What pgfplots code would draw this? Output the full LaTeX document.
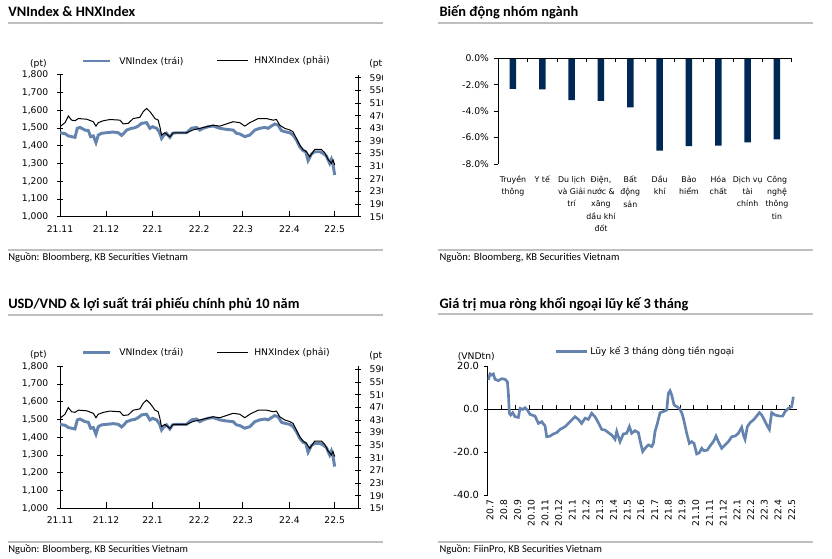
\documentclass[border=0pt]{standalone}
\usepackage{pgfplots}
\pgfplotsset{compat=1.18}
\usepackage{pgfplotstable}
\usepackage{fontspec}
\setmainfont{DejaVu Sans}
\newfontfamily\titlefont{Carlito}
\definecolor{vnblue}{RGB}{100,131,174}
\definecolor{navy}{RGB}{0,40,85}
\definecolor{rulegray}{RGB}{191,191,191}
\newcommand\cf{\fontsize{6.9}{8.3}\selectfont}
\newcommand\tf{\titlefont\bfseries\fontsize{10.8}{12}\selectfont}
\newcommand\srcf{\titlefont\fontsize{7.9}{9}\selectfont}
\pgfplotsset{every non boxed x axis/.append style={x axis line style=-},
             every non boxed y axis/.append style={y axis line style=-}}

\pgfplotstableread{
x y
180 1473
188 1470
195 1468
205 1455
215 1451
225 1447
232 1498
240 1503
248 1495
255 1488
265 1485
272 1451
280 1455
288 1417
295 1460
305 1470
320 1473
340 1477
355 1473
365 1458
372 1470
380 1488
395 1498
405 1501
415 1511
425 1526
440 1530
450 1498
458 1507
470 1498
478 1479
485 1441
490 1455
500 1470
510 1447
518 1470
530 1473
560 1473
575 1498
590 1503
600 1488
610 1498
625 1507
640 1511
660 1498
680 1492
700 1488
710 1470
720 1466
735 1451
750 1460
765 1488
780 1498
795 1503
805 1498
815 1511
825 1522
835 1516
845 1485
855 1479
870 1473
880 1460
890 1432
900 1394
910 1372
918 1366
925 1316
935 1353
945 1366
960 1366
970 1357
980 1342
990 1300
995 1323
1000 1291
1005 1235
}\vndata

\pgfplotstableread{
x y
182 437
195 448
205 469
215 456
225 454
235 461
260 459
280 451
288 437
295 448
310 454
330 458
360 456
370 444
385 446
400 461
420 465
430 483
440 493
450 483
458 472
465 461
475 456
480 435
485 409
495 416
510 403
520 416
560 416
580 425
600 430
620 435
640 440
660 437
680 444
700 451
720 448
735 437
750 448
775 461
800 461
820 456
830 458
840 440
855 430
870 425
880 419
890 398
900 377
910 363
920 356
930 340
945 363
965 363
975 353
985 332
995 319
1000 330
1005 314
}\hnxdata

\pgfplotstableread{
x y
205 13.5
210 16.3
215 15.8
220 16.3
225 13.8
235 13.2
245 14.1
255 13.8
262 12.7
265 7.3
268 -2.0
272 -2.8
278 -1.7
285 -3.6
295 -3.9
300 0.3
308 -0.2
315 0.6
322 -0.5
330 -2.5
345 -3.3
355 -6.7
365 -5.9
375 -7.9
380 -12.9
390 -12.6
400 -11.6
410 -11.0
420 -9.5
435 -8.2
450 -5.9
465 -3.6
475 -4.8
485 -6.7
495 -4.3
505 -4.8
515 -2.0
525 -3.6
535 -6.4
545 -9.5
555 -9.8
565 -11.0
575 -12.1
585 -14.1
590 -10.5
600 -15.2
610 -11.6
620 -11.3
628 -8.2
635 -11.3
645 -10.1
655 -11.0
662 -16.0
668 -19.8
675 -18.3
685 -16.7
695 -17.5
700 -16.0
705 -10.5
712 -6.7
720 -1.7
730 -1.2
740 -0.5
745 7.3
750 8.5
755 6.5
762 1.9
770 1.1
778 0.3
785 -1.7
790 -4.3
800 -11.3
808 -16.0
815 -15.2
822 -16.0
830 -20.9
838 -20.3
845 -18.3
852 -19.4
862 -19.1
870 -17.2
880 -15.2
888 -12.6
895 -15.2
905 -18.3
915 -16.7
925 -15.2
935 -12.9
945 -12.6
955 -11.3
965 -8.5
970 -12.1
975 -14.1
982 -8.2
990 -6.4
1000 -5.1
1010 -3.3
1018 -1.7
1025 -2.8
1032 -4.8
1040 -7.4
1048 -9.5
1055 -1.7
1065 -2.8
1078 -3.3
1088 -3.3
1095 -1.2
1105 0.3
1115 1.1
1120 5.7
}\ffdata

% coordinates: x in px from left, second argument = px from top
\newcommand{\vnpanel}[2]{%
  \node[anchor=base west, font=\tf, inner sep=0] at (8,{559-16.7-#1}) {#2};
  \draw[rulegray, line width=1.5pt] (8,{559-23-#1}) -- (383,{559-23-#1});
  \draw[rulegray, line width=1.5pt] (8,{559-250-#1}) -- (383,{559-250-#1});
  \node[anchor=base west, font=\srcf, inner sep=0] at (8,{559-260.7-#1}) {Nguồn: Bloomberg, KB Securities Vietnam};
  \draw[vnblue, line width=2.2pt] (83,{559-61-#1}) -- (110,{559-61-#1});
  \node[anchor=west, font=\cf, inner sep=0] at (119,{559-61-#1}) {VNIndex (trái)};
  \draw[black, line width=0.75pt] (217,{559-61-#1}) -- (248,{559-61-#1});
  \node[anchor=west, font=\cf, inner sep=0] at (254,{559-61-#1}) {HNXIndex (phải)};
  \node[anchor=east, font=\cf, inner sep=0] at (47,{559-63.5-#1}) {(pt)};
  \begin{scope}
  \clip (0,{559-#1}) rectangle (382,{559-280-#1});
  \node[anchor=west, font=\cf, inner sep=0] at (369,{559-64-#1}) {(pt)};
  \begin{axis}[
    at={({45pt},{(342.3-#1)*0.75pt})}, anchor=south west,
    scale only axis, width=223.5pt, height=106.5pt,
    xmin=180, xmax=1075, ymin=1000, ymax=1800,
    axis x line*=bottom, axis y line*=left,
    axis line style={black, line width=0.6pt},
    xtick={180,318,458,598,729,869,1005},
    xticklabels={21.11,21.12,22.1,22.2,22.3,22.4,22.5},
    ytick={1000,1100,...,1800},
    /pgf/number format/1000 sep={,},
    /pgf/number format/assume math mode=true,
    tick label style={font=\cf},
    xtick align=inside, ytick align=center,
    major tick length=4.5pt,
    tick style={black, line width=0.6pt},
    xticklabel style={yshift=-3pt},
    yticklabel style={xshift=-3pt},
  ]
  \addplot[vnblue, line width=2.2pt] table {\vndata};
  \end{axis}
  \begin{axis}[
    at={({45pt},{(342.3-#1)*0.75pt})}, anchor=south west,
    scale only axis, width=223.5pt, height=106.5pt,
    xmin=180, xmax=1075, ymin=150, ymax=600,
    axis x line=none, axis y line*=right,
    axis line style={black, line width=0.6pt},
    ytick={150,190,...,590},
    /pgf/number format/assume math mode=true,
    tick label style={font=\cf},
    ytick align=center, major tick length=4.5pt,
    tick style={black, line width=0.6pt},
    yticklabel style={xshift=3pt},
  ]
  \addplot[black, line width=0.75pt] table {\hnxdata};
  \end{axis}
  \end{scope}
}

\begin{document}
\begin{tikzpicture}[x=0.75pt, y=0.75pt]
\useasboundingbox (0,0) rectangle (832,559);
\fill[white] (0,0) rectangle (832,559);

\vnpanel{0}{VNIndex \& HNXIndex}
\vnpanel{291.6}{USD/VND \& lợi suất trái phiếu chính phủ 10 năm}

% ---------- top right: bar chart ----------
\node[anchor=base west, font=\tf, inner sep=0] at (439.3,{559-16.7}) {Biến động nhóm ngành};
\draw[rulegray, line width=1.5pt] (438,{559-23}) -- (813,{559-23});
\draw[rulegray, line width=1.5pt] (438,{559-250}) -- (813,{559-250});
\node[anchor=base west, font=\srcf, inner sep=0] at (439.3,{559-260.7}) {Nguồn: Bloomberg, KB Securities Vietnam};
\begin{axis}[
  at={(373.725pt,296.25pt)}, anchor=south west,
  scale only axis, width=220pt, height=79.3pt,
  xmin=-0.5, xmax=9.5, ymin=-8, ymax=0,
  axis x line*=bottom, axis y line*=left,
  x axis line style={draw=none},
  axis line style={black, line width=0.6pt},
  ybar, bar width=4.9pt,
  xtick={0,...,9},
  xticklabels={{Truyền\\thông},{Y tế},{Du lịch\\và Giải\\trí},{Điện,\\nước \&\\xăng\\dầu khí\\đốt},{Bất\\động\\sản},{Dầu\\khí},{Bảo\\hiểm},{Hóa\\chất},{Dịch vụ\\tài\\chính},{Công\\nghệ\\thông\\tin}},
  xticklabel style={align=center, anchor=north, font=\fontsize{5.9}{9.2}\selectfont, yshift=-2pt},
  x tick style={draw=none},
  ytick={-8,-6,...,0},
  yticklabel={\pgfmathprintnumber[fixed,fixed zerofill,precision=1]{\tick}\%},
  /pgf/number format/assume math mode=true,
  yticklabel style={font=\cf},
  ytick align=outside, major tick length=3.5pt,
  tick style={black, line width=0.6pt},
]
\addplot[fill=navy, draw=none] coordinates {(0,-2.32) (1,-2.35) (2,-3.16) (3,-3.23) (4,-3.71) (5,-6.99) (6,-6.64) (7,-6.61) (8,-6.36) (9,-6.13)};
\end{axis}
\begin{axis}[
  at={(373.725pt,296.25pt)}, anchor=south west,
  scale only axis, width=220pt, height=79.3pt,
  xmin=-0.5, xmax=9.5, ymin=-8, ymax=0,
  axis x line*=top, axis y line=none,
  axis line style={black, line width=0.6pt},
  xtick={0.5,1.5,...,9.5}, xticklabels={},
  xtick align=inside, major tick length=3pt,
  tick style={black, line width=0.6pt},
]
\end{axis}

% ---------- bottom right: foreign flows ----------
\node[anchor=base west, font=\tf, inner sep=0] at (439.3,{559-309}) {Giá trị mua ròng khối ngoại lũy kế 3 tháng};
\draw[rulegray, line width=1.5pt] (438,{559-314.5}) -- (813,{559-314.5});
\draw[rulegray, line width=1.5pt] (438,{559-541.6}) -- (813,{559-541.6});
\node[anchor=base west, font=\srcf, inner sep=0] at (439.3,{559-552.5}) {Nguồn: FiinPro, KB Securities Vietnam};
\draw[vnblue, line width=2pt] (556,{559-351.7}) -- (586.7,{559-351.7});
\node[anchor=west, font=\cf, inner sep=0] at (590,{559-351.7}) {Lũy kế 3 tháng dòng tiền ngoại};
\node[anchor=east, font=\cf, inner sep=0] at (495,{559-357}) {(VNDtn)};
% zero line with upward ticks
\begin{axis}[
  at={(365.775pt,112.5pt)}, anchor=south west,
  scale only axis, width=231.75pt, height=20pt,
  xmin=203, xmax=1130, ymin=0, ymax=1,
  axis x line*=bottom, axis y line=none,
  axis line style={black, line width=0.6pt},
  xtick={245,286.1,327.3,368.4,409.6,450.7,491.8,533,574.1,615.3,656.4,697.5,738.7,779.8,821,862.1,903.2,944.4,985.5,1026.7,1067.8,1108.9}, xticklabels={},
  xtick align=inside, major tick length=3pt,
  tick style={black, line width=0.6pt},
]
\end{axis}
\begin{axis}[
  at={(365.775pt,48pt)}, anchor=south west,
  scale only axis, width=231.75pt, height=96.75pt,
  xmin=203, xmax=1130, ymin=-40, ymax=20,
  axis x line*=bottom, axis y line*=left,
  x axis line style={draw=none},
  axis line style={black, line width=0.6pt},
  xtick={210,251.1,292.3,333.4,374.6,415.7,456.8,498,539.1,580.3,621.4,662.5,703.7,744.8,786,827.1,868.2,909.4,950.5,991.7,1032.8,1073.9,1115.1},
  xticklabels={20.7,20.8,20.9,20.10,20.11,20.12,21.1,21.2,21.3,21.4,21.5,21.6,21.7,21.8,21.9,21.10,21.11,21.12,22.1,22.2,22.3,22.4,22.5},
  xticklabel style={rotate=90, anchor=east, font=\cf},
  x tick style={draw=none},
  ytick={-40,-20,0,20},
  yticklabel={\pgfmathprintnumber[fixed,fixed zerofill,precision=1]{\tick}},
  /pgf/number format/assume math mode=true,
  yticklabel style={font=\fontsize{7.4}{8.5}\selectfont},
  ytick align=outside, major tick length=3pt,
  tick style={black, line width=0.6pt},
]
\addplot[vnblue, line width=2pt] table {\ffdata};
\end{axis}
\end{tikzpicture}
\end{document}
